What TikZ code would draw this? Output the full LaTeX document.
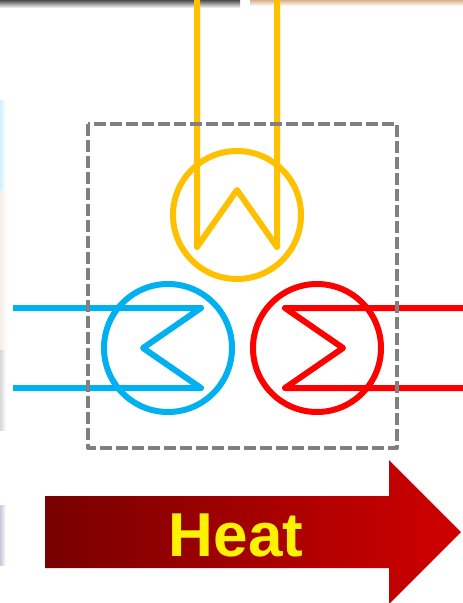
\documentclass[tikz,border=0pt]{standalone}
\usepackage{fontspec}
\setmainfont{Liberation Sans}
\definecolor{pipeyellow}{HTML}{FFC000}
\definecolor{pipeblue}{HTML}{00B0F0}
\definecolor{pipered}{HTML}{FF0000}
\definecolor{boxgray}{HTML}{808080}
\definecolor{heatdark}{HTML}{780000}
\definecolor{heatlight}{HTML}{D00000}
\tikzset{
  ring/.style={circle,draw=#1,line width=6pt,minimum size=128pt,inner sep=0pt,fill=none},
  coil/.style={draw=#1,line width=6pt,line join=round,line cap=round},
  systembox/.style={draw=boxgray,line width=4.2pt,dash pattern=on 12pt off 4pt,line join=round},
  heatlabel/.style={text=yellow,font=\bfseries\fontsize{62}{62}\selectfont,inner sep=0pt,anchor=base}
}
\begin{document}
\begin{tikzpicture}[x=1pt,y=-1pt]
\useasboundingbox (0,0) rectangle (463,603);
% blurred remnants at the picture edges
\path[top color=black!70,bottom color=white] (0,0) rectangle (240,8);
\path[top color=brown!60,bottom color=white] (250,0) rectangle (463,6);
\path[left color=blue!30!cyan!18,right color=white] (0,100) rectangle (6,190);
\path[left color=brown!14,right color=white] (0,190) rectangle (7,350);
\path[left color=black!16,right color=white] (0,350) rectangle (6,430);
\path[left color=blue!30!black!22,right color=white] (0,505) rectangle (6,565);
% exchangers
\node[ring=pipeyellow] (top) at (237,215) {};
\node[ring=pipeblue] (left) at (168,348) {};
\node[ring=pipered] (right) at (317,348) {};
\coordinate (ya) at (197,-2);
\coordinate (yb) at (197,247);
\coordinate (yc) at (237,190);
\coordinate (yd) at (277,247);
\coordinate (ye) at (277,-2);
\draw[coil=pipeyellow,line cap=butt] (ya) -- (yb) -- (yc) -- (yd) -- (ye);
\coordinate (ba) at (13,308);
\coordinate (bb) at (201,308);
\coordinate (bc) at (143,348);
\coordinate (bd) at (201,388);
\coordinate (be) at (13,388);
\draw[coil=pipeblue,line cap=butt] (ba) -- (bb) -- (bc) -- (bd) -- (be);
\coordinate (ra) at (465,308);
\coordinate (rb) at (285,308);
\coordinate (rc) at (343,348);
\coordinate (rd) at (285,388);
\coordinate (re) at (465,388);
\draw[coil=pipered,line cap=butt] (ra) -- (rb) -- (rc) -- (rd) -- (re);
% system boundary
\draw[systembox] (88,124) rectangle (397,448);
% heat arrow
\path[left color=heatdark,right color=heatlight]
  (45,496) -- (389,496) -- (389,460) -- (461,532) -- (389,604) -- (389,568) -- (45,568) -- cycle;
\node[heatlabel,text=yellow] (heat) at (236,556) {Heat};
\end{tikzpicture}
\end{document}
